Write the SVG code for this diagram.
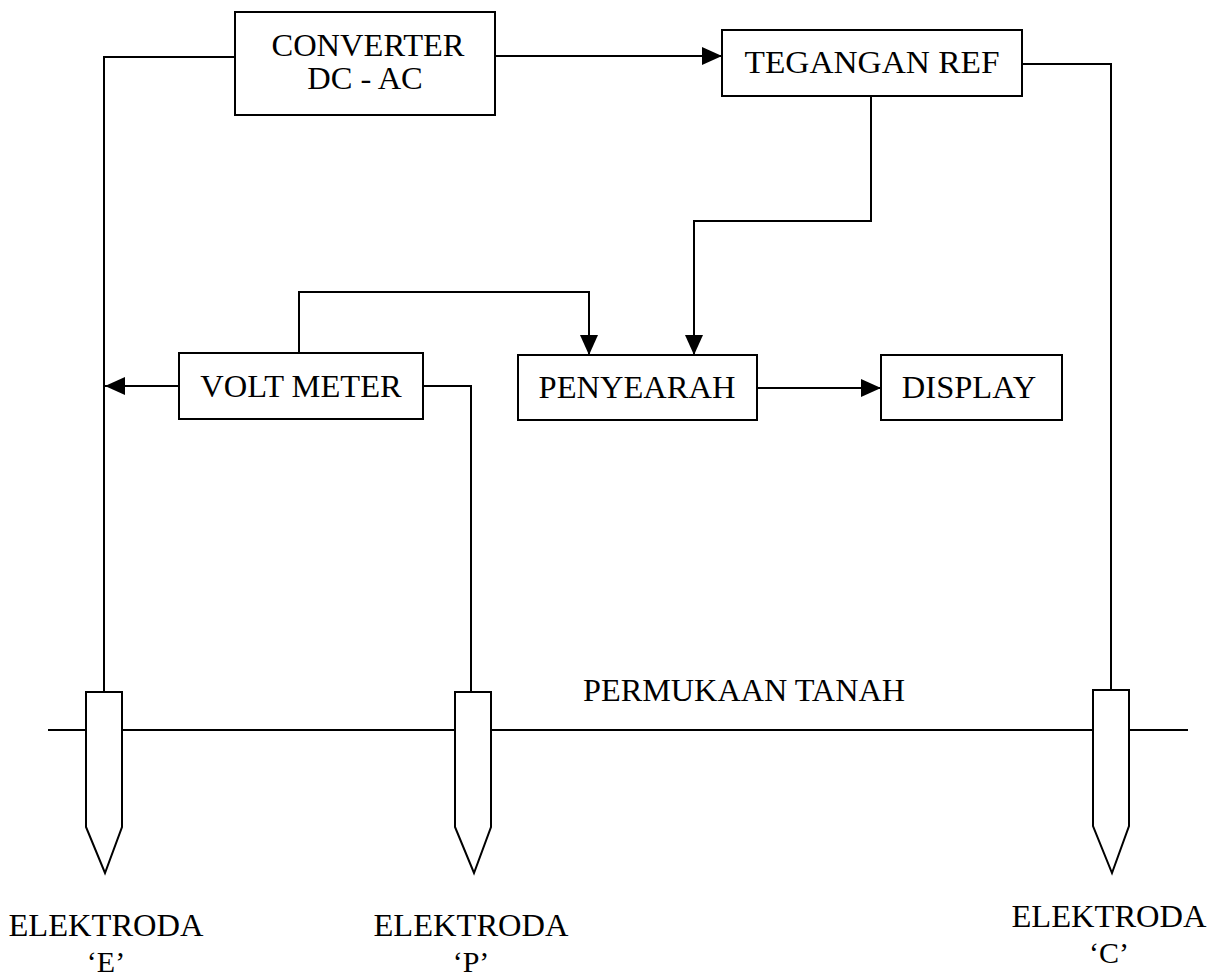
<svg xmlns="http://www.w3.org/2000/svg" width="1223" height="976" viewBox="0 0 1223 976">
<style>
  .box { fill: #ffffff; stroke: #000000; stroke-width: 2; }
  .wire { fill: none; stroke: #000000; stroke-width: 2; }
  .lbl { font-family: "Liberation Serif", "Times New Roman", serif; font-size: 32.5px; fill: #000000; text-anchor: middle; }
  .sub { font-family: "Liberation Serif", "Times New Roman", serif; font-size: 30px; fill: #000000; text-anchor: middle; }
  .rod { fill: #ffffff; stroke: #000000; stroke-width: 2; stroke-linejoin: miter; }
</style>
<defs>
  <marker id="arr" viewBox="0 0 20 18" refX="20" refY="9" markerWidth="20" markerHeight="18" markerUnits="userSpaceOnUse" orient="auto">
    <path d="M0,0 L20,9 L0,18 Z" fill="#000000"/>
  </marker>
</defs>
<rect width="1223" height="976" fill="#ffffff"/>

<g id="connectors">
  <polyline class="wire" points="235,57 104,57 104,692"/>
  <line class="wire" x1="495" y1="56" x2="722" y2="56" marker-end="url(#arr)"/>
  <polyline class="wire" points="1022,64 1111,64 1111,690"/>
  <polyline class="wire" points="871,96 871,221 694,221 694,355" marker-end="url(#arr)"/>
  <polyline class="wire" points="299,353 299,292 589,292 589,355" marker-end="url(#arr)"/>
  <line class="wire" x1="179" y1="386" x2="105" y2="386" marker-end="url(#arr)"/>
  <polyline class="wire" points="423,386 471,386 471,692"/>
  <line class="wire" x1="757" y1="388" x2="881" y2="388" marker-end="url(#arr)"/>
  <line class="wire" x1="48" y1="730" x2="1188" y2="730"/>
</g>

<g id="converter">
  <rect class="box" x="235" y="12" width="260" height="103"/>
  <text class="lbl" x="368" y="56">CONVERTER</text>
  <text class="lbl" x="365" y="89">DC - AC</text>
</g>

<g id="tegangan-ref">
  <rect class="box" x="722" y="30" width="300" height="66"/>
  <text class="lbl" x="872" y="73" textLength="255" lengthAdjust="spacingAndGlyphs">TEGANGAN REF</text>
</g>

<g id="volt-meter">
  <rect class="box" x="179" y="353" width="244" height="66"/>
  <text class="lbl" x="301" y="397">VOLT METER</text>
</g>

<g id="penyearah">
  <rect class="box" x="518" y="355" width="239" height="65"/>
  <text class="lbl" x="637" y="398">PENYEARAH</text>
</g>

<g id="display">
  <rect class="box" x="881" y="355" width="181" height="65"/>
  <text class="lbl" x="969" y="398">DISPLAY</text>
</g>

<g id="permukaan-tanah">
  <text class="lbl" x="744" y="701" textLength="322" lengthAdjust="spacingAndGlyphs">PERMUKAAN TANAH</text>
</g>

<g id="elektroda-e">
  <path class="rod" d="M86,692 L122,692 L122,827 L105,873 L86,827 Z"/>
  <text class="lbl" x="106" y="936">ELEKTRODA</text>
  <text class="sub" x="106" y="972">‘E’</text>
</g>

<g id="elektroda-p">
  <path class="rod" d="M455,692 L491,692 L491,827 L474,873 L455,827 Z"/>
  <text class="lbl" x="471" y="936">ELEKTRODA</text>
  <text class="sub" x="471" y="972">‘P’</text>
</g>

<g id="elektroda-c">
  <path class="rod" d="M1093,690 L1129,690 L1129,826 L1112,873 L1093,826 Z"/>
  <text class="lbl" x="1109" y="927">ELEKTRODA</text>
  <text class="sub" x="1109" y="963">‘C’</text>
</g>
</svg>
